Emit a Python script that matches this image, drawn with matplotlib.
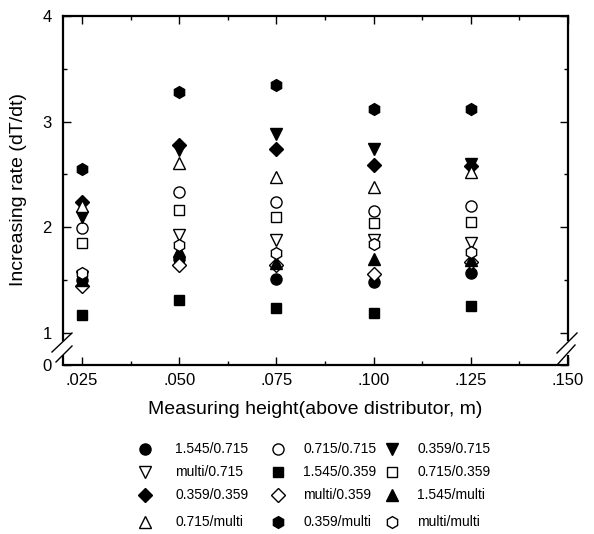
import numpy as np
import matplotlib
matplotlib.use('Agg')
import matplotlib.pyplot as plt
from matplotlib.lines import Line2D

plt.rcParams['font.family'] = ['Liberation Sans', 'DejaVu Sans']

# Measuring heights (m)
heights = [0.025, 0.050, 0.075, 0.100, 0.125]

# Increasing rate (dT/dt) for each condition
r_1545_0715 = [1.50, 1.70, 1.51, 1.48, 1.57]
r_0715_0715 = [1.99, 2.33, 2.24, 2.15, 2.20]
r_0359_0715 = [2.10, 2.73, 2.88, 2.74, 2.60]
r_multi_0715 = [1.53, 1.93, 1.88, 1.88, 1.85]
r_1545_0359 = [1.17, 1.31, 1.24, 1.19, 1.26]
r_0715_0359 = [1.85, 2.16, 2.10, 2.04, 2.05]
r_0359_0359 = [2.24, 2.78, 2.74, 2.59, 2.58]
r_multi_0359 = [1.44, 1.64, 1.64, 1.56, 1.67]
r_1545_multi = [1.50, 1.78, 1.66, 1.70, 1.69]
r_0715_multi = [2.20, 2.61, 2.48, 2.38, 2.52]
r_0359_multi = [2.55, 3.28, 3.35, 3.12, 3.12]
r_multi_multi = [1.57, 1.83, 1.76, 1.84, 1.77]

labels = ['1.545/0.715', '0.715/0.715', '0.359/0.715',
          'multi/0.715', '1.545/0.359', '0.715/0.359',
          '0.359/0.359', 'multi/0.359', '1.545/multi',
          '0.715/multi', '0.359/multi', 'multi/multi']
series = [r_1545_0715, r_0715_0715, r_0359_0715,
          r_multi_0715, r_1545_0359, r_0715_0359,
          r_0359_0359, r_multi_0359, r_1545_multi,
          r_0715_multi, r_0359_multi, r_multi_multi]
# (marker, filled, size)
styles = [('o', True, 8), ('o', False, 8), ('v', True, 8.5),
          ('v', False, 8.5), ('s', True, 7), ('s', False, 7),
          ('D', True, 7), ('D', False, 7), ('^', True, 8.5),
          ('^', False, 8.5), ('h', True, 8.5), ('h', False, 8.5)]

W, H = 594, 534
fig = plt.figure(figsize=(W / 100, H / 100), dpi=100)
ax = fig.add_axes([63 / W, 1 - 365 / H, 505 / W, 349 / H])

y_lo = 0.697
for vals, (m, filled, ms) in zip(series, styles):
    ax.plot(heights, vals, linestyle='none', marker=m, markersize=ms,
            markerfacecolor='black' if filled else 'white',
            markeredgecolor='black', markeredgewidth=1.0, clip_on=False)

ax.set_xlim(0.0201, 0.150)
ax.set_ylim(y_lo, 4.0)

ax.set_xticks([0.025, 0.050, 0.075, 0.100, 0.125, 0.150])
ax.set_xticklabels(['.025', '.050', '.075', '.100', '.125', '.150'])
ax.set_xticks([0.0375, 0.0625, 0.0875, 0.1125, 0.1375], minor=True)
ax.set_yticks([y_lo, 1, 2, 3, 4])
ax.set_yticklabels(['0', '1', '2', '3', '4'])
ax.set_yticks([1.5, 2.5, 3.5], minor=True)
ax.tick_params(which='both', direction='in', top=True, right=True,
               labelsize=12, width=1.0)
ax.tick_params(which='major', length=6)
ax.tick_params(which='minor', length=3)
ax.tick_params(axis='y', pad=8)
ax.tick_params(axis='x', pad=6)

for s in ax.spines.values():
    s.set_linewidth(1.6)
# broken y axis between 0 and 1
y_top_break = 0.934
y_bot_break = 0.79
ax.spines['left'].set_bounds(y_top_break, 4.0)
ax.spines['right'].set_bounds(y_top_break, 4.0)
for xa in (0, 1):
    ax.plot([xa, xa], [y_lo, y_bot_break], transform=ax.get_yaxis_transform(),
            color='black', lw=1.6, clip_on=False, solid_capstyle='butt')


def px(x, y):
    return x / W, 1 - y / H


for (x0, y0, x1, y1) in [(52, 352, 72, 333), (56, 362, 72, 346),
                         (557, 353, 577, 333), (557, 365, 575, 345)]:
    a, b = px(x0, y0)
    c, d = px(x1, y1)
    fig.add_artist(Line2D([a, c], [b, d], color='black', lw=1.0))

fig.text(19 / W, 1 - 190 / H, 'Increasing rate (dT/dt)', rotation=90,
         ha='center', va='center', fontsize=14)
fig.text(315 / W, 1 - 410 / H, 'Measuring height(above distributor, m)',
         ha='center', va='center', fontsize=14)

# legend, 4 rows x 3 columns
row_y = [449, 472, 495, 522]
mark_x = [145, 278, 392]
text_x = [175, 303, 417]
for i, (lab, (m, filled, ms)) in enumerate(zip(labels, styles)):
    r, c = divmod(i, 3)
    a, b = px(mark_x[c], row_y[r])
    fig.add_artist(Line2D([a], [b], linestyle='none', marker=m, markersize=ms,
                          markerfacecolor='black' if filled else 'white',
                          markeredgecolor='black', markeredgewidth=1.0))
    a, b = px(text_x[c], row_y[r])
    fig.text(a, b, lab, ha='left', va='center', fontsize=10)

fig.savefig('out.png', dpi=100)
